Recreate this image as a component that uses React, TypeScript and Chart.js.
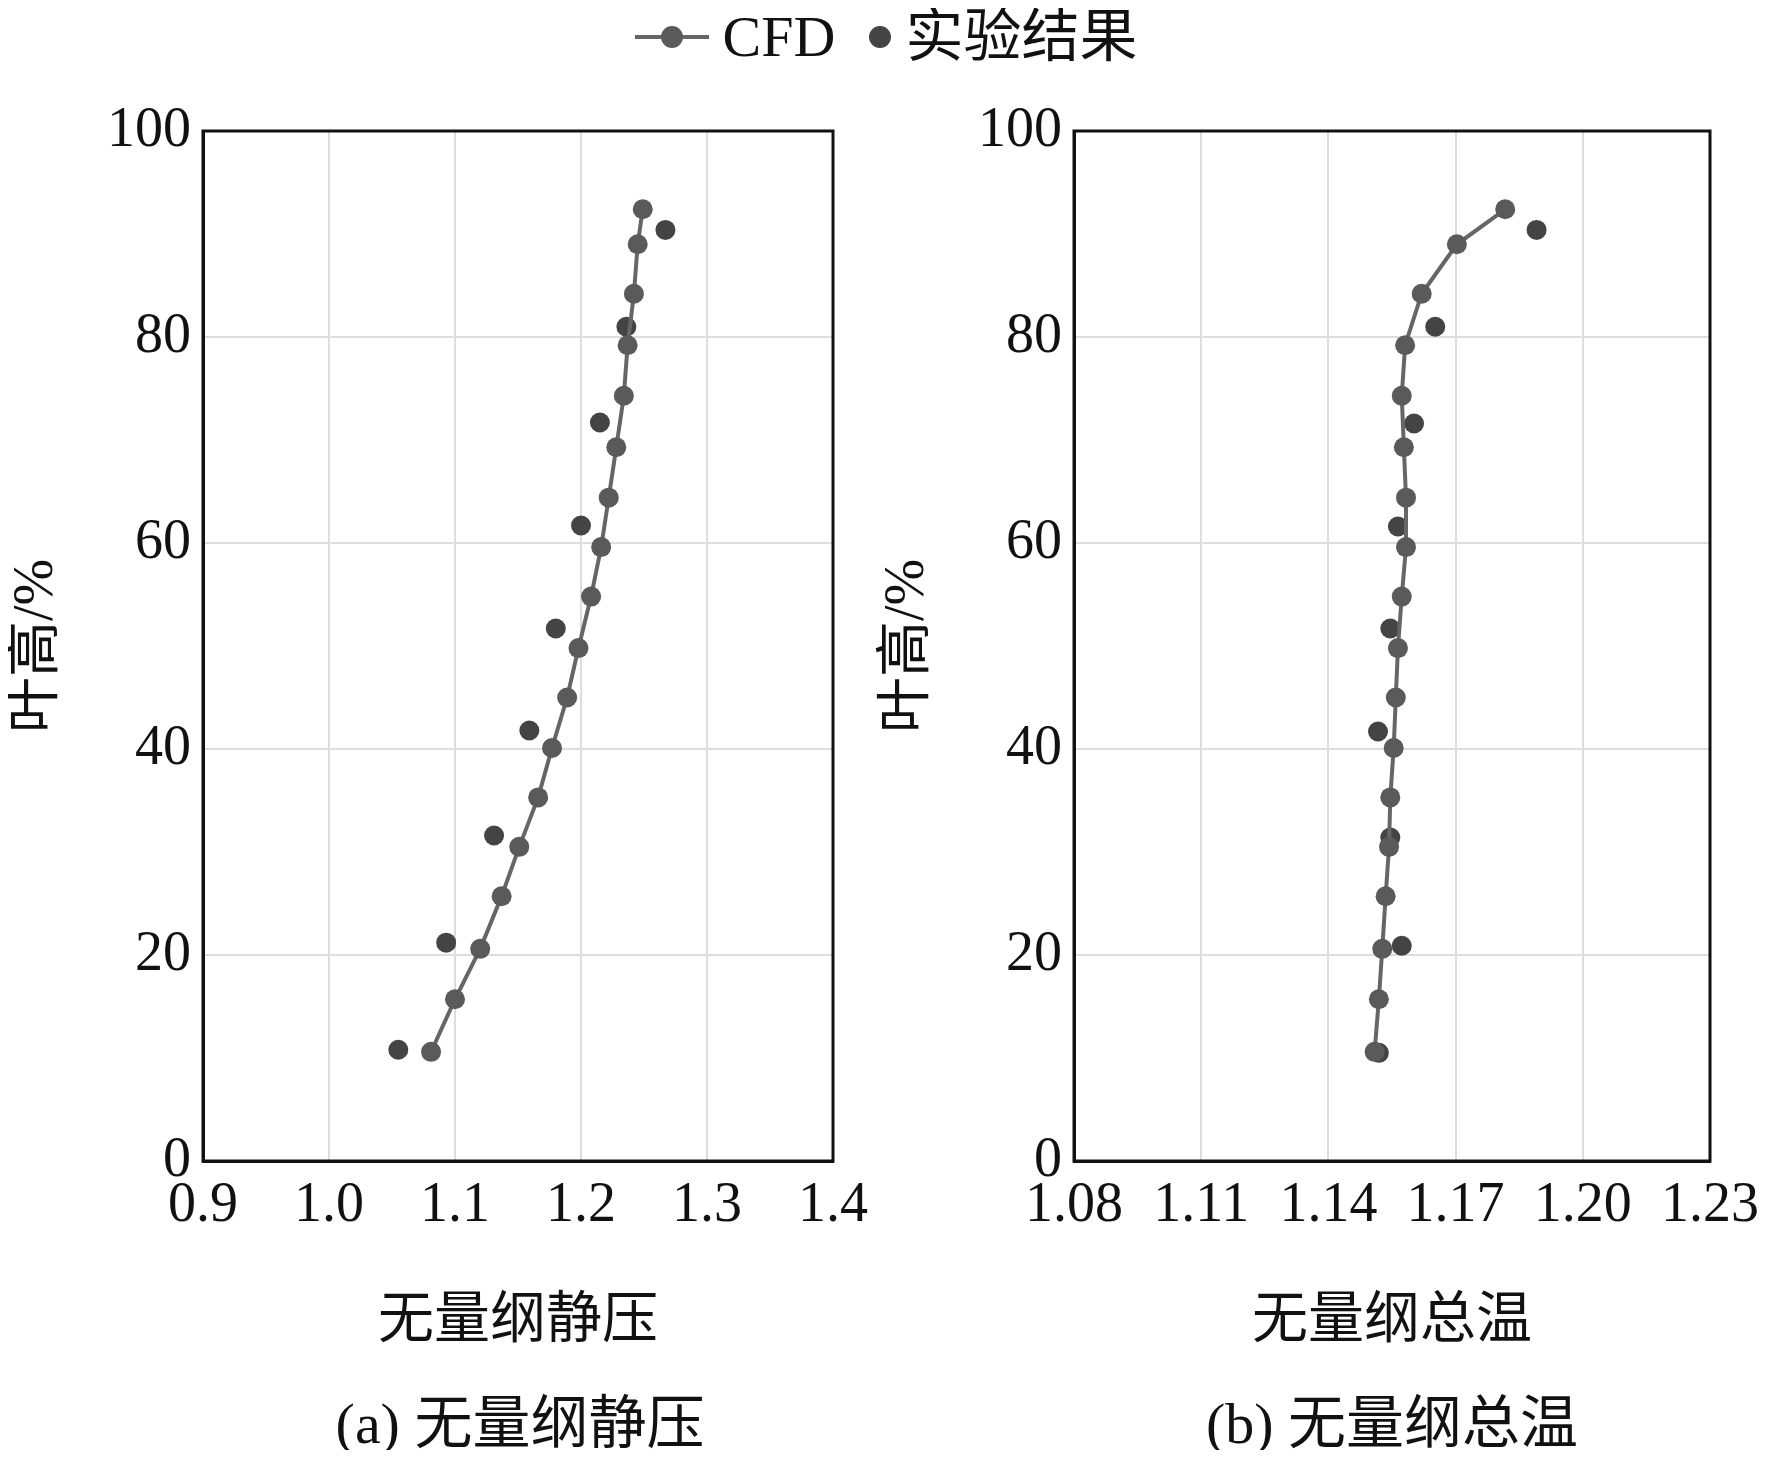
import React, { useEffect, useRef } from "react";
import { Chart, registerables } from "chart.js";
Chart.register(...registerables);

const heights = [10.6, 15.7, 20.6, 25.7, 30.5, 35.3, 40.1, 45.0, 49.8, 54.8, 59.6, 64.4, 69.3, 74.3, 79.2, 84.2, 89.0, 92.4];
const cfdPressure = [1.081, 1.100, 1.120, 1.137, 1.151, 1.166, 1.177, 1.189, 1.198, 1.208, 1.216, 1.222, 1.228, 1.234, 1.237, 1.242, 1.245, 1.249];
const cfdTemp = [1.1509, 1.1519, 1.1527, 1.1535, 1.1543, 1.1546, 1.1554, 1.1559, 1.1564, 1.1573, 1.1583, 1.1583, 1.1578, 1.1573, 1.1581, 1.1620, 1.1703, 1.1817];
const expHeightsA = [10.8, 21.2, 31.6, 41.8, 51.7, 61.7, 71.7, 81.0, 90.4];
const expPressure = [1.055, 1.093, 1.131, 1.159, 1.180, 1.200, 1.215, 1.236, 1.267];
const expHeightsB = [10.5, 20.9, 31.4, 41.7, 51.7, 61.6, 71.6, 81.0, 90.4];
const expTemp = [1.1519, 1.1573, 1.1546, 1.1517, 1.1546, 1.1564, 1.1602, 1.1652, 1.1891];

const serif = "'Liberation Serif', 'Times New Roman', serif";
const cjk = "'Liberation Serif', 'Noto Sans CJK SC', serif";

function Panel(props: { left: number; width: number; cfdX: number[]; expX: number[]; expY: number[]; min: number; max: number; step: number; dec: number; xTitle: string; padRight: number }) {
  const ref = useRef<HTMLCanvasElement>(null);
  useEffect(() => {
    const c = new Chart(ref.current!, {
      type: "scatter",
      data: {
        datasets: [
          { data: props.cfdX.map((x, i) => ({ x, y: heights[i] })), showLine: true, borderColor: "#666", borderWidth: 4, backgroundColor: "#5a5a5a", pointRadius: 10, pointBorderWidth: 0 },
          { data: props.expX.map((x, i) => ({ x, y: props.expY[i] })), backgroundColor: "#444", pointRadius: 10, pointBorderWidth: 0 },
        ],
      },
      options: {
        animation: false, responsive: false,
        layout: { padding: { top: 131, right: props.padRight, left: 0, bottom: 0 } },
        plugins: { legend: { display: false }, tooltip: { enabled: false } },
        scales: {
          x: {
            min: props.min, max: props.max,
            afterBuildTicks: (s: any) => { const t = []; for (let v = props.min; v <= props.max + 1e-9; v += props.step) t.push({ value: +v.toFixed(4) }); s.ticks = t; },
            ticks: { font: { family: serif, size: 56 }, color: "#111", maxRotation: 0, autoSkip: false, padding: 12, callback: (v: any) => Number(v).toFixed(props.dec) },
            grid: { color: "#ddd", lineWidth: 2, drawTicks: false },
            border: { color: "#111", width: 3 },
            title: { display: true, text: props.xTitle, font: { family: cjk, size: 56 }, color: "#111", padding: { top: 14 } },
            afterFit: (s: any) => { s.height = 199; },
          },
          y: {
            min: 0, max: 100,
            ticks: { stepSize: 20, font: { family: serif, size: 56 }, color: "#111", padding: 12 },
            grid: { color: "#ddd", lineWidth: 2, drawTicks: false },
            border: { color: "#111", width: 3 },
            title: { display: true, text: "叶高/%", font: { family: cjk, size: 56 }, color: "#111", padding: { bottom: 6 } },
            afterFit: (s: any) => { s.width = 203; },
          },
        },
      },
      plugins: [{
        id: "frame",
        afterDraw(ch: any) {
          const a = ch.chartArea, g = ch.ctx;
          g.save(); g.strokeStyle = "#111"; g.lineWidth = 3;
          g.strokeRect(a.left, a.top, a.right - a.left, a.bottom - a.top); g.restore();
        },
      }],
    } as any);
    return () => c.destroy();
  }, []);
  return <canvas ref={ref} width={props.width} height={1360} style={{ position: "absolute", left: props.left, top: 0 }} />;
}

export default function App() {
  const dotStyle = (s: number, c: string): React.CSSProperties => ({ display: "inline-block", width: s, height: s, borderRadius: "50%", background: c });
  return (
    <div style={{ position: "relative", width: 1772, height: 1458, background: "#fff", margin: -8, fontFamily: cjk, color: "#111" }}>
      <Panel left={0} width={880} cfdX={cfdPressure} expX={expPressure} expY={expHeightsA} min={0.9} max={1.4} step={0.1} dec={1} xTitle="无量纲静压" padRight={43} />
      <Panel left={871} width={900} cfdX={cfdTemp} expX={expTemp} expY={expHeightsB} min={1.08} max={1.23} step={0.03} dec={2} xTitle="无量纲总温" padRight={59} />
      <div style={{ position: "absolute", top: 4, left: 0, width: 1772, fontSize: 58, lineHeight: "66px", display: "flex", justifyContent: "center", alignItems: "center", gap: 14 }}>
        <span style={{ position: "relative", display: "inline-block", width: 74, height: 22 }}>
          <span style={{ position: "absolute", left: 0, right: 0, top: 9, height: 4, background: "#666" }} />
          <span style={{ ...dotStyle(22, "#5a5a5a"), position: "absolute", left: 26, top: 0 }} />
        </span>
        <span style={{ fontFamily: serif }}>CFD</span>
        <span style={{ ...dotStyle(22, "#444"), marginLeft: 20 }} />
        <span>实验结果</span>
      </div>
      <div style={{ position: "absolute", top: 1376, left: 270, width: 500, textAlign: "center", fontSize: 58 }}>(a) 无量纲静压</div>
      <div style={{ position: "absolute", top: 1376, left: 1142, width: 500, textAlign: "center", fontSize: 58 }}>(b) 无量纲总温</div>
    </div>
  );
}
